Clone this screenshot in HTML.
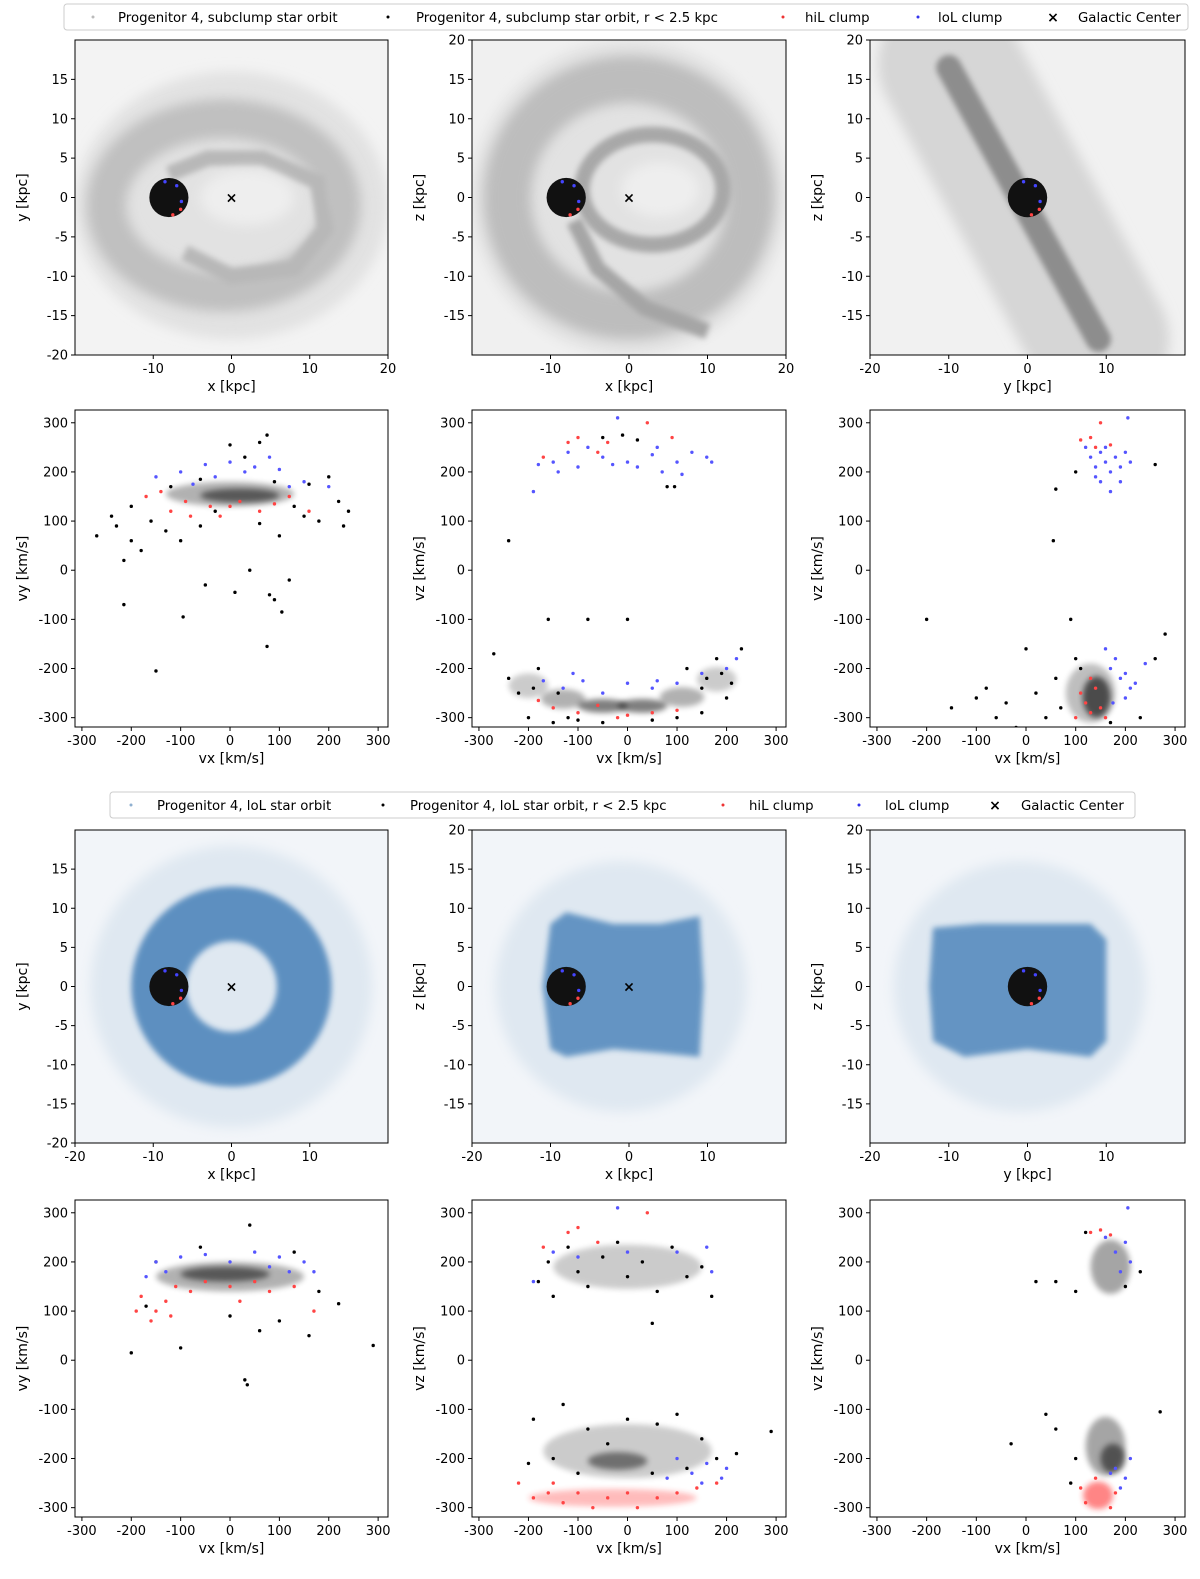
<!DOCTYPE html>
<html><head><meta charset="utf-8"><style>
body{margin:0;background:#fff}
svg{display:block;font-family:"DejaVu Sans","Liberation Sans",sans-serif}
</style></head><body>
<svg id="fig" width="1200" height="1579" viewBox="0 0 1200 1579" xmlns="http://www.w3.org/2000/svg">
<defs>
<filter id="bl" filterUnits="userSpaceOnUse" x="0" y="0" width="1200" height="1579"><feGaussianBlur stdDeviation="6"/></filter>
<filter id="bl2" filterUnits="userSpaceOnUse" x="0" y="0" width="1200" height="1579"><feGaussianBlur stdDeviation="3"/></filter>
</defs>
<g>
<rect x="64" y="4" width="1124" height="26" rx="3" fill="#fff" stroke="#ccc"/>
<circle cx="93" cy="17" r="1.5" fill="#bbb"/><text x="118" y="22" font-size="13.3">Progenitor 4, subclump star orbit</text>
<circle cx="388" cy="17" r="1.5" fill="#000"/><text x="416" y="22" font-size="13.3">Progenitor 4, subclump star orbit, r &lt; 2.5 kpc</text>
<circle cx="783" cy="17" r="1.5" fill="#e33"/><text x="805" y="22" font-size="13.3">hiL clump</text>
<circle cx="918" cy="17" r="1.5" fill="#33e"/><text x="938" y="22" font-size="13.3">loL clump</text>
<text x="1053" y="22" font-size="14" font-weight="bold" text-anchor="middle">×</text><text x="1078" y="22" font-size="13.3">Galactic Center</text>
</g>
<g>
<rect x="110" y="792" width="1025" height="26" rx="3" fill="#fff" stroke="#ccc"/>
<circle cx="131" cy="805" r="1.5" fill="#8fb0d0"/><text x="157" y="810" font-size="13.3">Progenitor 4, loL star orbit</text>
<circle cx="383" cy="805" r="1.5" fill="#000"/><text x="410" y="810" font-size="13.3">Progenitor 4, loL star orbit, r &lt; 2.5 kpc</text>
<circle cx="723" cy="805" r="1.5" fill="#e33"/><text x="749" y="810" font-size="13.3">hiL clump</text>
<circle cx="859" cy="805" r="1.5" fill="#33e"/><text x="885" y="810" font-size="13.3">loL clump</text>
<text x="995" y="810" font-size="14" font-weight="bold" text-anchor="middle">×</text><text x="1021" y="810" font-size="13.3">Galactic Center</text>
</g>
</svg>
<script>
const NS="http://www.w3.org/2000/svg";
const fig=document.getElementById('fig');
const colX=[[75,388],[472,786],[870,1185]];
const rowY=[[40,355],[410,727],[830,1143],[1200,1517]];
const velTicks=[-300,-200,-100,0,100,200,300];

const r2p1Black=[[-270,70],[-215,20],[-215,-70],[-150,-205],[-95,-95],[-50,-30],[10,-45],[40,0],[75,-155],[80,-50],[90,-60],[105,-85],[120,-20],[60,260],[75,275],[-240,110],[-200,60],[-180,40],[200,190],[230,90],[220,140],[-160,100],[-130,80],[-100,60],[-60,90],[150,110],[180,100],[0,255],[30,230],[-30,120],[100,70],[130,130],[-200,130],[60,95],[-230,90],[240,120],[-120,170],[160,175],[-60,185],[90,180]];
const r2p1Red=[[-170,150],[-120,120],[-80,110],[-40,130],[20,140],[60,120],[120,150],[160,120],[-140,160],[-90,140],[0,130],[90,135],[-20,110]];
const r2p1Blue=[[-100,200],[-50,215],[0,220],[50,210],[100,205],[150,180],[-150,190],[30,200],[-30,190],[80,230],[120,170],[200,170],[-75,175]];
const r2p1Blob=[[0,155,130,25,0.3],[20,152,80,14,0.5]];

const r2p2Blue=[[-190,160],[-180,215],[-150,220],[-120,240],[-100,210],[-80,250],[-50,230],[-30,215],[0,220],[20,210],[50,235],[70,200],[100,220],[130,240],[160,230],[170,220],[-20,310],[60,250],[110,195],[-140,200],[-170,-225],[-130,-240],[-90,-225],[-50,-250],[0,-230],[50,-240],[100,-230],[150,-210],[200,-200],[220,-180],[-110,-210],[60,-225]];
const r2p2Red=[[-120,260],[-100,270],[-60,240],[-40,260],[40,300],[90,270],[-170,230],[-150,-280],[-100,-290],[-60,-275],[0,-295],[50,-290],[100,-285],[-20,-300],[-180,-265]];
const r2p2Black=[[-10,275],[20,265],[80,170],[95,170],[-240,60],[-160,-100],[-80,-100],[0,-100],[-50,270],[-270,-170],[-240,-220],[-220,-250],[-200,-300],[-150,-310],[-100,-305],[-50,-310],[50,-305],[100,-300],[150,-290],[200,-260],[230,-160],[180,-180],[150,-240],[-180,-200],[120,-200],[210,-230],[-120,-300],[-190,-240],[-140,-250],[160,-220],[190,-210]];
const r2p2Blob=[[-200,-235,40,25,0.2],[-130,-262,45,20,0.3],[-50,-276,50,14,0.5],[30,-276,50,14,0.5],[110,-258,45,20,0.3],[180,-222,40,25,0.2]];

const r2p3Blue=[[120,250],[130,230],[140,210],[150,240],[160,220],[170,200],[180,230],[190,210],[200,240],[150,180],[170,160],[190,180],[140,190],[210,220],[205,310],[160,250],[170,-200],[190,-220],[210,-240],[200,-260],[180,-180],[220,-230],[160,-160],[175,-270],[240,-190],[200,-210]];
const r2p3Red=[[110,265],[130,270],[150,300],[140,250],[170,255],[110,-250],[120,-270],[130,-290],[140,-240],[150,-280],[100,-300],[160,-300],[130,-220]];
const r2p3Black=[[100,200],[60,165],[55,60],[260,215],[-200,-100],[-150,-280],[-80,-240],[-60,-300],[-40,-270],[-20,-320],[0,-160],[20,-250],[60,-220],[70,-280],[40,-300],[90,-100],[100,-180],[260,-180],[280,-130],[230,-300],[-100,-260],[110,-200],[170,-310]];
const r2p3Blob=[[130,-250,50,60,0.25],[142,-258,28,42,0.6]];

const r4p1Black=[[-200,15],[-100,25],[30,-40],[35,-50],[160,50],[290,30],[220,115],[40,275],[-170,110],[0,90],[60,60],[100,80],[-150,200],[130,220],[-60,230],[180,140]];
const r4p1Red=[[-190,100],[-180,130],[-150,100],[-130,120],[-110,150],[-80,140],[-50,160],[0,150],[50,160],[80,140],[-160,80],[-120,90],[130,150],[170,100],[20,120]];
const r4p1Blue=[[-170,170],[-150,200],[-100,210],[-50,215],[0,200],[50,220],[100,210],[150,200],[170,180],[-130,180],[80,190],[120,180]];
const r4p1Blob=[[0,170,150,30,0.3],[-10,175,90,15,0.5]];

const r4p2Black=[[-180,160],[-150,130],[-120,230],[-100,180],[-80,150],[-50,210],[-20,240],[0,170],[30,200],[60,140],[90,230],[120,170],[150,190],[170,130],[-160,200],[50,75],[-190,-120],[-130,-90],[-80,-140],[-40,-170],[0,-120],[60,-130],[100,-110],[150,-160],[180,-200],[220,-190],[290,-145],[-150,-200],[-100,-230],[50,-230],[120,-220],[-200,-210]];
const r4p2Red=[[-120,260],[-100,270],[-60,240],[40,300],[-170,230],[-220,-250],[-190,-280],[-160,-270],[-130,-290],[-100,-270],[-70,-300],[-40,-280],[0,-270],[20,-300],[60,-280],[100,-270],[140,-260],[180,-250],[-150,-250]];
const r4p2Blue=[[-190,160],[-150,220],[-100,210],[0,220],[100,220],[160,230],[-20,310],[170,180],[100,-200],[130,-230],[160,-210],[190,-240],[200,-220],[150,-250],[80,-240]];
const r4p2Blob=[[0,190,150,45,0.2],[0,-185,170,55,0.2],[-20,-205,60,18,0.45]];
const r4p2RedBlob=[[-30,-280,170,18,0.3]];

const r4p3Black=[[60,160],[20,160],[100,140],[230,180],[-30,-170],[40,-110],[60,-140],[90,-250],[100,-200],[270,-105],[120,260],[200,150]];
const r4p3Red=[[130,260],[150,265],[170,255],[140,-240],[120,-290],[170,-300],[110,-260],[180,-270]];
const r4p3Blue=[[180,220],[200,240],[210,200],[190,180],[205,310],[160,250],[180,-220],[200,-240],[210,-200],[190,-260],[170,-230]];
const r4p3Blob=[[170,190,40,55,0.35],[160,-175,40,60,0.35],[175,-200,25,30,0.5]];
const r4p3RedBlob=[[145,-275,30,28,0.55]];

function el(tag,attrs,parent){const e=document.createElementNS(NS,tag);for(const k in attrs)e.setAttribute(k,attrs[k]);(parent||fig).appendChild(e);return e;}

function makePanel(c,r,xr,yr,xt,yt,xl,yl,name){
  const [x0,x1]=colX[c],[y0,y1]=rowY[r];
  const sx=v=>x0+(v-xr[0])/(xr[1]-xr[0])*(x1-x0);
  const sy=v=>y1-(v-yr[0])/(yr[1]-yr[0])*(y1-y0);
  const g=el('g',{});
  
  
  const cid='clip'+c+'_'+r;
  const cp=el('clipPath',{id:cid},g);el('rect',{x:x0,y:y0,width:x1-x0,height:y1-y0},cp);
  const plot=el('g',{'clip-path':'url(#'+cid+')'},g);
  const ax=el('g',{},g);
  el('rect',{x:x0,y:y0,width:x1-x0,height:y1-y0,fill:'none',stroke:'#000','stroke-width':1},ax);
  xt.forEach(t=>{const X=sx(t);el('line',{x1:X,x2:X,y1:y1,y2:y1+4,stroke:'#000'},ax);
    const tx=el('text',{x:X,y:y1+18,'font-size':13,'text-anchor':'middle'},ax);tx.textContent=t;});
  yt.forEach(t=>{const Y=sy(t);el('line',{x1:x0-4,x2:x0,y1:Y,y2:Y,stroke:'#000'},ax);
    const tx=el('text',{x:x0-7,y:Y+4.5,'font-size':13,'text-anchor':'end'},ax);tx.textContent=t;});
  const xlab=el('text',{x:(x0+x1)/2,y:y1+36,'font-size':14,'text-anchor':'middle'},ax);xlab.textContent=xl;
  
  
  const yx=x0-48,yy=(y0+y1)/2;
  const ylab=el('text',{x:yx,y:yy,'font-size':14,'text-anchor':'middle',transform:'rotate(-90 '+yx+' '+yy+')'},ax);ylab.textContent=yl;
  
  
  return {sx,sy,plot,kx:(x1-x0)/(xr[1]-xr[0]),ky:(y1-y0)/(yr[1]-yr[0])};
}
function pts(P,arr,col){arr.forEach(p=>{const d=el('circle',{cx:P.sx(p[0]),cy:P.sy(p[1]),r:1.7,fill:col},P.plot);
  
  });}
function blobs(P,arr,col){arr.forEach(b=>{const e=el('ellipse',{cx:P.sx(b[0]),cy:P.sy(b[1]),rx:b[2]*P.kx,ry:b[3]*P.ky,fill:col,opacity:b[4],filter:'url(#bl2)'},P.plot);
  
  });}
function path(P,list,attrs){const d=list.map((p,i)=>(i?'L':'M')+P.sx(p[0]).toFixed(1)+' '+P.sy(p[1]).toFixed(1)).join(' ');return el('path',Object.assign({d},attrs),P.plot);}
function core(P,cx,cy){const c=el('circle',{cx:P.sx(cx),cy:P.sy(cy),r:2.5*P.kx,fill:'#111'},P.plot);
  
  
  pts(P,[[cx+1,cy+1.5],[cx+1.6,cy-0.5],[cx-0.5,cy+2]],'#44f');pts(P,[[cx+1.5,cy-1.5],[cx+0.5,cy-2.2]],'#f44');}
function gc(P){const t=el('text',{x:P.sx(0),y:P.sy(0)+5,'font-size':14,'font-weight':'bold','text-anchor':'middle'},P.plot);t.textContent='×';
  
  }

const pr=[-20,20];
let P=makePanel(0,0,pr,pr,[-10,0,10,20],[-20,-15,-10,-5,0,5,10,15],'x [kpc]','y [kpc]','panel-subclump-xy');
el('rect',{x:75,y:40,width:313,height:315,fill:'#f3f3f3'},P.plot);
el('ellipse',{cx:P.sx(0),cy:P.sy(-1),rx:20*P.kx,ry:17*P.ky,fill:'#e2e2e2',filter:'url(#bl)'},P.plot);
el('ellipse',{cx:P.sx(-1),cy:P.sy(-1),rx:15*P.kx,ry:11*P.ky,fill:'none',stroke:'#c0c0c0','stroke-width':5*P.kx,filter:'url(#bl)'},P.plot);
path(P,[[-8,3],[-3,5],[4,5],[11,2],[12,-4],[8,-9],[0,-10],[-6,-7]],{fill:'none',stroke:'#b8b8b8','stroke-width':2*P.kx,filter:'url(#bl2)'});
el('ellipse',{cx:P.sx(2),cy:P.sy(0),rx:6*P.kx,ry:3.5*P.ky,fill:'#eee',filter:'url(#bl)'},P.plot);
core(P,-8,0);gc(P);

P=makePanel(1,0,pr,pr,[-10,0,10,20],[-15,-10,-5,0,5,10,15,20],'x [kpc]','z [kpc]','panel-subclump-xz');
el('rect',{x:472,y:40,width:314,height:315,fill:'#f0f0f0'},P.plot);
el('ellipse',{cx:P.sx(0),cy:P.sy(0),rx:20*P.kx,ry:20*P.ky,fill:'#e2e2e2',filter:'url(#bl)'},P.plot);
el('ellipse',{cx:P.sx(0),cy:P.sy(0),rx:15.5*P.kx,ry:15*P.ky,fill:'none',stroke:'#bdbdbd','stroke-width':6*P.kx,filter:'url(#bl)'},P.plot);
el('ellipse',{cx:P.sx(3),cy:P.sy(1),rx:9*P.kx,ry:7*P.ky,fill:'none',stroke:'#a8a8a8','stroke-width':2*P.kx,filter:'url(#bl2)'},P.plot);
path(P,[[-7,-3],[-4,-9],[2,-14],[10,-17]],{fill:'none',stroke:'#a5a5a5','stroke-width':2*P.kx,filter:'url(#bl2)'});
el('ellipse',{cx:P.sx(4),cy:P.sy(1),rx:5*P.kx,ry:3.5*P.ky,fill:'#eee',filter:'url(#bl)'},P.plot);
core(P,-8,0);gc(P);

P=makePanel(2,0,pr,pr,[-20,-10,0,10],[-15,-10,-5,0,5,10,15,20],'y [kpc]','z [kpc]','panel-subclump-yz');
el('rect',{x:870,y:40,width:315,height:315,fill:'#f1f1f1'},P.plot);
path(P,[[-10,17],[9,-18]],{fill:'none',stroke:'#d6d6d6','stroke-width':18*P.kx,'stroke-linecap':'round',filter:'url(#bl)'});
path(P,[[-10,16.5],[9,-18]],{fill:'none',stroke:'#8d8d8d','stroke-width':3.2*P.kx,'stroke-linecap':'round',filter:'url(#bl2)'});
core(P,0,0);

const vxr=[-314,320],vyr=[-319,326];
P=makePanel(0,1,vxr,vyr,velTicks,velTicks,'vx [km/s]','vy [km/s]','panel-subclump-vx-vy');
blobs(P,r2p1Blob,'#000');pts(P,r2p1Black,'#000');pts(P,r2p1Red,'#f44');pts(P,r2p1Blue,'#55f');
P=makePanel(1,1,vxr,vyr,velTicks,velTicks,'vx [km/s]','vz [km/s]','panel-subclump-vx-vz');
blobs(P,r2p2Blob,'#000');pts(P,r2p2Black,'#000');pts(P,r2p2Red,'#f44');pts(P,r2p2Blue,'#55f');
P=makePanel(2,1,vxr,vyr,velTicks,velTicks,'vx [km/s]','vz [km/s]','panel-subclump-vy-vz');
blobs(P,r2p3Blob,'#000');pts(P,r2p3Black,'#000');pts(P,r2p3Red,'#f44');pts(P,r2p3Blue,'#55f');

const blue='#4f86bb';
P=makePanel(0,2,pr,pr,[-20,-10,0,10],[-20,-15,-10,-5,0,5,10,15],'x [kpc]','y [kpc]','panel-lol-xy');
el('rect',{x:75,y:830,width:313,height:313,fill:'#f2f5f9'},P.plot);
el('circle',{cx:P.sx(0),cy:P.sy(0),r:18*P.kx,fill:'#dfe8f1',filter:'url(#bl)'},P.plot);
el('circle',{cx:P.sx(0),cy:P.sy(0),r:9.3*P.kx,fill:'none',stroke:blue,'stroke-width':7*P.kx,opacity:0.9,filter:'url(#bl2)'},P.plot);
core(P,-8,0);gc(P);
P=makePanel(1,2,pr,pr,[-20,-10,0,10],[-15,-10,-5,0,5,10,15,20],'x [kpc]','z [kpc]','panel-lol-xz');
el('rect',{x:472,y:830,width:314,height:313,fill:'#f2f5f9'},P.plot);
el('ellipse',{cx:P.sx(-1),cy:P.sy(0),rx:16*P.kx,ry:16*P.ky,fill:'#dfe8f1',filter:'url(#bl)'},P.plot);
path(P,[[-10,8],[-8,9.5],[-2,8],[4,8],[9,9],[9.5,0],[9,-9],[4,-8.5],[-2,-8],[-8,-9],[-10,-8],[-11,0],[-10,8]],{fill:blue,opacity:0.85,filter:'url(#bl2)'});
core(P,-8,0);gc(P);
P=makePanel(2,2,pr,pr,[-20,-10,0,10],[-15,-10,-5,0,5,10,15,20],'y [kpc]','z [kpc]','panel-lol-yz');
el('rect',{x:870,y:830,width:315,height:313,fill:'#f2f5f9'},P.plot);
el('ellipse',{cx:P.sx(-1),cy:P.sy(0),rx:16*P.kx,ry:16*P.ky,fill:'#dfe8f1',filter:'url(#bl)'},P.plot);
path(P,[[-12,7.5],[-6,8],[0,8],[8,8],[10,6],[10,-7],[8,-9],[0,-8],[-8,-9],[-12,-7],[-12.5,0],[-12,7.5]],{fill:blue,opacity:0.85,filter:'url(#bl2)'});
core(P,0,0);

P=makePanel(0,3,vxr,vyr,velTicks,velTicks,'vx [km/s]','vy [km/s]','panel-lol-vx-vy');
blobs(P,r4p1Blob,'#000');pts(P,r4p1Black,'#000');pts(P,r4p1Red,'#f44');pts(P,r4p1Blue,'#55f');
P=makePanel(1,3,vxr,vyr,velTicks,velTicks,'vx [km/s]','vz [km/s]','panel-lol-vx-vz');
blobs(P,r4p2Blob,'#000');blobs(P,r4p2RedBlob,'#f22');pts(P,r4p2Black,'#000');pts(P,r4p2Red,'#f44');pts(P,r4p2Blue,'#55f');
P=makePanel(2,3,vxr,vyr,velTicks,velTicks,'vx [km/s]','vz [km/s]','panel-lol-vy-vz');
blobs(P,r4p3Blob,'#000');blobs(P,r4p3RedBlob,'#f22');pts(P,r4p3Black,'#000');pts(P,r4p3Red,'#f44');pts(P,r4p3Blue,'#55f');
</script>
</body></html>
